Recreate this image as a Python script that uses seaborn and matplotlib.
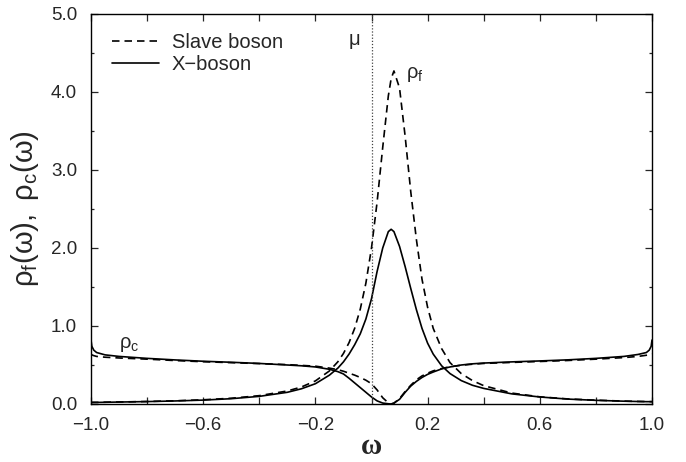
import numpy as np
import pandas as pd
import matplotlib
matplotlib.use('Agg')
import matplotlib.pyplot as plt
import seaborn as sns


# Datos
omega = [-1.0, -0.997, -0.99, -0.98, -0.95, -0.9, -0.8, -0.7, -0.6, -0.5,
         -0.4, -0.3, -0.25, -0.2, -0.15, -0.12, -0.1, -0.08, -0.06, -0.04,
         -0.02, 0.0, 0.02, 0.04, 0.06, 0.07, 0.08, 0.1, 0.12, 0.14,
         0.16, 0.18, 0.2, 0.22, 0.25, 0.28, 0.32, 0.36, 0.4, 0.5,
         0.6, 0.7, 0.8, 0.9, 0.95, 0.98, 0.99, 0.997, 1.0]

rho_f_slave = [0.020, 0.020, 0.021, 0.021, 0.023, 0.026, 0.032, 0.041, 0.054, 0.074,
               0.107, 0.167, 0.218, 0.296, 0.424, 0.541, 0.648, 0.787, 0.970, 1.217,
               1.550, 2.00, 2.59, 3.29, 3.95, 4.17, 4.27, 4.05, 3.43, 2.72,
               2.11, 1.60, 1.24, 0.97, 0.71, 0.53, 0.39, 0.30, 0.235, 0.140,
               0.092, 0.065, 0.049, 0.037, 0.033, 0.031, 0.030, 0.030, 0.030]

rho_f_xboson = [0.020, 0.020, 0.020, 0.020, 0.022, 0.025, 0.031, 0.039, 0.050, 0.068,
                0.098, 0.150, 0.195, 0.26, 0.37, 0.46, 0.54, 0.64, 0.76, 0.90,
                1.09, 1.35, 1.70, 2.00, 2.21, 2.24, 2.21, 2.02, 1.76, 1.48,
                1.21, 0.97, 0.78, 0.64, 0.49, 0.39, 0.30, 0.24, 0.20, 0.13,
                0.090, 0.063, 0.047, 0.036, 0.032, 0.030, 0.030, 0.030, 0.030]

rho_c_slave = [0.64, 0.63, 0.62, 0.61, 0.60, 0.59, 0.575, 0.557, 0.542, 0.53,
               0.518, 0.505, 0.495, 0.485, 0.46, 0.44, 0.42, 0.395, 0.37, 0.34,
               0.305, 0.26, 0.18, 0.08, 0.015, 0.0, 0.01, 0.07, 0.16, 0.24,
               0.31, 0.36, 0.395, 0.425, 0.455, 0.478, 0.497, 0.51, 0.52, 0.533,
               0.545, 0.558, 0.575, 0.595, 0.61, 0.625, 0.63, 0.635, 0.64]

rho_c_xboson = [0.82, 0.74, 0.69, 0.66, 0.63, 0.61, 0.585, 0.565, 0.548, 0.535,
                0.52, 0.50, 0.49, 0.475, 0.445, 0.415, 0.385, 0.33, 0.27, 0.21,
                0.15, 0.09, 0.04, 0.012, 0.003, 0.0, 0.012, 0.06, 0.15, 0.23,
                0.29, 0.34, 0.38, 0.41, 0.45, 0.475, 0.50, 0.515, 0.525, 0.54,
                0.552, 0.566, 0.585, 0.61, 0.635, 0.66, 0.69, 0.74, 0.82]

x_ticks = [-1.0, -0.8, -0.6, -0.4, -0.2, 0.0, 0.2, 0.4, 0.6, 0.8, 1.0]
x_labels = ['\u22121.0', '', '\u22120.6', '', '\u22120.2', '', '0.2', '', '0.6', '', '1.0']
y_ticks = [0, 1, 2, 3, 4, 5]
y_labels = ['0.0', '1.0', '2.0', '3.0', '4.0', '5.0']


sns.set_style('ticks')
plt.rcParams['font.family'] = ['Liberation Sans', 'DejaVu Sans']
plt.rcParams['mathtext.fontset'] = 'custom'
plt.rcParams['mathtext.rm'] = 'Liberation Sans'
plt.rcParams['mathtext.it'] = 'Liberation Sans'

fig = plt.figure(figsize=(6.86, 4.62), dpi=100)
ax = fig.add_axes([91 / 686, 1 - 404 / 462, 561 / 686, 390 / 462])

dash = (0, (4.5, 3))
lw = 1.2

sns.lineplot(x=omega, y=rho_f_slave, ax=ax, color='black', lw=lw,
             linestyle=dash, sort=False, label='Slave boson')
sns.lineplot(x=omega, y=rho_f_xboson, ax=ax, color='black', lw=lw,
             linestyle='-', sort=False, label='X\u2212boson')
sns.lineplot(x=omega, y=rho_c_slave, ax=ax, color='black', lw=lw,
             linestyle=dash, sort=False)
sns.lineplot(x=omega, y=rho_c_xboson, ax=ax, color='black', lw=lw,
             linestyle='-', sort=False)

ax.axvline(0, color='#444444', linestyle=(0, (1, 1.5)), lw=0.9)

ax.set_xlim(-1.0, 1.0)
ax.set_ylim(0, 5.0)
ax.set_xticks(x_ticks)
ax.set_xticklabels(x_labels)
ax.set_yticks(y_ticks)
ax.set_yticklabels(y_labels)
ax.set_yticks([0.5, 1.5, 2.5, 3.5, 4.5], minor=True)

ax.tick_params(which='both', direction='in', top=True, right=True,
               labelsize=13.5, width=0.9)
ax.tick_params(which='major', length=5, pad=9)
ax.tick_params(which='minor', length=2.5)
ax.tick_params(axis='y', which='major', pad=10)
for s in ax.spines.values():
    s.set_linewidth(1.0)
    s.set_color('black')

ax.set_xlabel('\u03c9', fontsize=21, fontweight='bold',
              family=['Liberation Serif', 'DejaVu Serif'], labelpad=0)
ax.set_ylabel(r'$\mathregular{\rho_f(\omega),\ \rho_c(\omega)}$', fontsize=21,
              labelpad=7)

ax.text(-0.06, 4.67, '\u03bc', fontsize=14.5, ha='center', va='center')
ax.text(0.123, 4.22, r'$\mathregular{\rho_f}$', fontsize=14.5, ha='left', va='center')
ax.text(-0.90, 0.76, r'$\mathregular{\rho_c}$', fontsize=14.5, ha='left', va='center')

ax.legend(loc='upper left', bbox_to_anchor=(0.038, 0.952), frameon=False,
          fontsize=14.5, handlelength=2.3, handletextpad=0.65,
          labelspacing=0.15, borderaxespad=0, borderpad=0)

fig.savefig('out.png', dpi=100)
